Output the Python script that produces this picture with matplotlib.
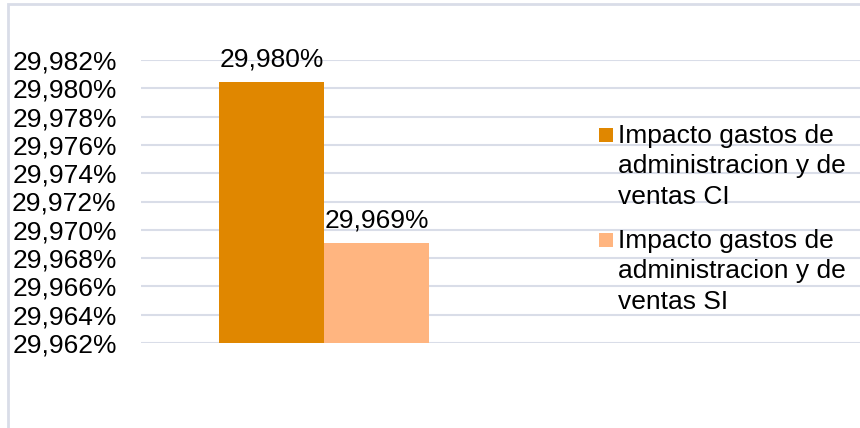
import matplotlib
matplotlib.use('Agg')
import matplotlib.pyplot as plt
from matplotlib.patches import Rectangle
from matplotlib.ticker import FuncFormatter

# Datos del grafico
series = ["Impacto gastos de\nadministracion y de\nventas CI",
          "Impacto gastos de\nadministracion y de\nventas SI"]
valores = [29.98047, 29.96910]
etiquetas = ["29,980%", "29,969%"]
colores = ["#E08700", "#FFB580"]
y_min, y_max, y_paso = 29.962, 29.982, 0.002

plt.rcParams['font.family'] = ['Liberation Sans', 'DejaVu Sans']

fig = plt.figure(figsize=(8.6, 4.28), dpi=100)
W, H = 860, 428
ax = fig.add_axes([141 / W, 1 - 343 / H, (W - 141) / W, (343 - 60) / H])

ancho = 0.35
offsets = [-ancho / 2, ancho / 2]
for i in range(len(valores)):
    ax.bar(offsets[i], valores[i] - y_min, bottom=y_min, width=ancho,
           color=colores[i], zorder=3)
    ax.text(offsets[i], valores[i] + 0.0007, etiquetas[i], ha='center',
            va='bottom', fontsize=19, zorder=4)

ax.set_ylim(y_min, y_max)
ax.set_xlim((141 - 324) / 300, (860 - 324) / 300)
n = int(round((y_max - y_min) / y_paso))
ax.set_yticks([y_min + k * y_paso for k in range(n + 1)])
ax.yaxis.set_major_formatter(FuncFormatter(lambda v, p: f"{v:.3f}%".replace('.', ',')))
ax.tick_params(axis='y', length=0, pad=17.5, labelsize=19)
ax.set_xticks([])
ax.grid(axis='y', color='#D9DDE8', linewidth=1.5, zorder=0)
for s in ax.spines.values():
    s.set_visible(False)

# Leyenda manual: cuadro alineado con la primera linea del texto
tops = [128, 233]
for i in range(len(series)):
    fig.patches.append(Rectangle((599 / W, 1 - (tops[i] + 14) / H), 14 / W, 14 / H,
                                 transform=fig.transFigure, facecolor=colores[i],
                                 edgecolor='none'))
    fig.text(618 / W, 1 - (tops[i] - 4) / H, series[i], ha='left', va='top',
             fontsize=19, linespacing=1.34)

# Marco del area del grafico
fig.patches.append(Rectangle((8 / W, -0.1), 2, (H - 4) / H + 0.1,
                             transform=fig.transFigure, fill=False,
                             edgecolor='#D9DDE8', linewidth=2))

fig.savefig("out.png", dpi=100)
